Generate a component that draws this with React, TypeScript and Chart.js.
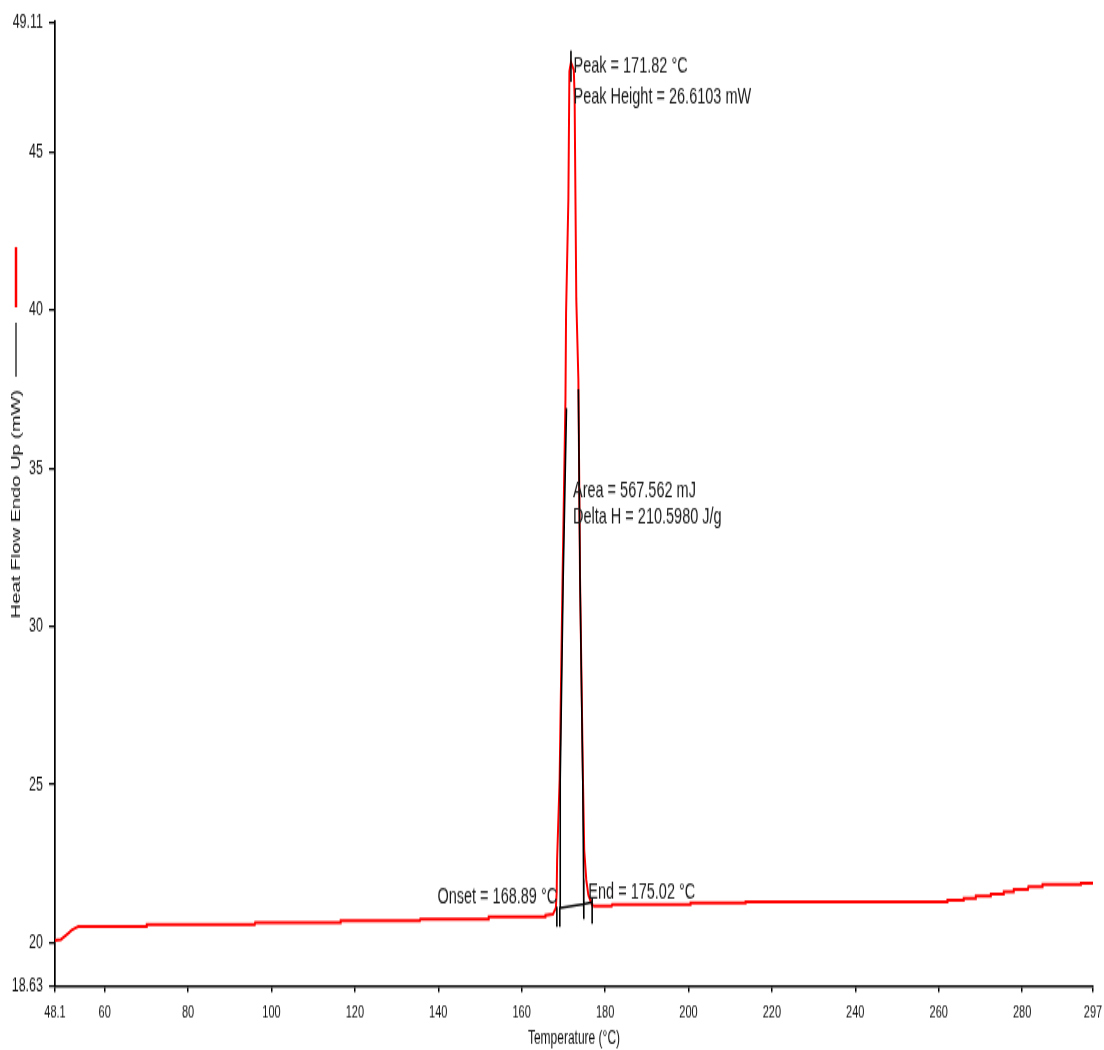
import React, { useEffect, useRef } from 'react';
import { Chart, registerables } from 'chart.js';

Chart.register(...registerables);

const FONT = '"Liberation Sans", Arial, Helvetica, sans-serif';

// Axis ticks
const xTickValues = [48.1, 60, 80, 100, 120, 140, 160, 180, 200, 220, 240, 260, 280, 297];
const yTickValues = [18.63, 20, 25, 30, 35, 40, 45, 49.11];

// Red DSC trace (temperature °C, heat flow mW)
const redTemp = [
  48.1, 49.5, 50.1, 51.3, 52.1, 52.9, 53.7, 70.0, 70.1, 96.0, 96.1, 116.5, 116.6, 135.6, 135.7,
  152.0, 152.1, 165.6, 165.7, 167.5, 168.2, 168.4, 168.5, 169.1, 169.8, 170.5, 170.65, 171.2,
  171.45, 171.82, 172.5, 172.7, 172.8, 173.1, 173.6, 174.0, 174.7, 175.0, 175.5, 176.0, 176.9,
  177.4, 181.6, 181.7, 200.4, 200.5, 213.6, 213.7, 262.0, 262.1, 265.9, 266.0, 268.8, 268.9,
  272.4, 272.5, 275.5, 275.6, 277.9, 278.0, 281.4, 281.5, 284.8, 284.9, 294.0, 294.1, 297.0,
];
const redHeat = [
  20.07, 20.1, 20.17, 20.3, 20.4, 20.46, 20.51, 20.51, 20.57, 20.57, 20.64, 20.64, 20.7, 20.7, 20.75,
  20.75, 20.82, 20.82, 20.87, 20.9, 21.1, 21.6, 22.62, 25.15, 31.48, 37.17, 39.93, 43.5,
  47.55, 47.84, 47.6, 46.76, 45.1, 40.34, 37.81, 31.48, 25.15, 22.93, 21.98, 21.51, 21.19,
  21.16, 21.16, 21.21, 21.21, 21.26, 21.26, 21.3, 21.3, 21.34, 21.34, 21.4, 21.4, 21.48,
  21.48, 21.54, 21.54, 21.61, 21.61, 21.69, 21.69, 21.77, 21.77, 21.85, 21.85, 21.88, 21.88,
];

// Black analysis trace segments
const blackLeftTemp = [169.2, 169.25, 169.95, 170.75];
const blackLeftHeat = [21.1, 25.15, 31.48, 36.9];
const blackRightTemp = [173.6, 174.0, 174.65, 174.85, 174.9];
const blackRightHeat = [37.5, 31.48, 25.15, 22.0, 20.75];
const baselineTemp = [169.2, 174.9, 176.9];
const baselineHeat = [21.1, 21.22, 21.28];
const onsetTick1Temp = [168.44, 168.44];
const onsetTick1Heat = [21.14, 20.5];
const onsetTick2Temp = [169.15, 169.15];
const onsetTick2Heat = [21.14, 20.5];
const endTickTemp = [176.9, 176.9];
const endTickHeat = [21.42, 20.6];
const peakMarkTemp = [171.82, 171.82];
const peakMarkHeat = [48.21, 47.22];

// Annotation texts anchored to data values
const annotations = [
  { text: 'Peak = 171.82 °C', t: 171.82, h: 47.5, dx: 2.5, align: 'left' },
  { text: 'Peak Height = 26.6103 mW', t: 171.82, h: 46.55, dx: 2.5, align: 'left' },
  { text: 'Area = 567.562 mJ', t: 171.82, h: 34.1, dx: 2, align: 'left' },
  { text: 'Delta H = 210.5980 J/g', t: 171.82, h: 33.26, dx: 2, align: 'left' },
  { text: 'Onset = 168.89 °C', t: 168.89, h: 21.25, dx: -1.5, align: 'right' },
  { text: 'End = 175.02 °C', t: 175.02, h: 21.4, dx: 4, align: 'left' },
];

const CANVAS_W = 1104;
const CANVAS_H = 680;
const CSS_H = 1050;

function toPoints(t: number[], h: number[]) {
  return t.map((v, i) => ({ x: v, y: h[i] }));
}

function joinSegments(segs: Array<[number[], number[]]>) {
  const out: Array<{ x: number; y: number | null }> = [];
  segs.forEach(([t, h], k) => {
    if (k > 0) out.push({ x: t[0], y: null });
    out.push(...toPoints(t, h));
  });
  return out;
}

const decorPlugin = {
  id: 'decor',
  afterDatasetsDraw(chart: any) {
    const { ctx, scales } = chart;
    const xs = scales.x;
    const ys = scales.y;
    ctx.save();
    ctx.fillStyle = '#1a1a1a';
    ctx.font = `14.5px ${FONT}`;
    ctx.textBaseline = 'alphabetic';
    annotations.forEach((a) => {
      ctx.textAlign = a.align;
      ctx.fillText(a.text, xs.getPixelForValue(a.t) + a.dx, ys.getPixelForValue(a.h));
    });
    // legend markers next to the axis title
    ctx.lineCap = 'butt';
    ctx.strokeStyle = '#ff0000';
    ctx.lineWidth = 2.5;
    ctx.beginPath();
    ctx.moveTo(16, 160);
    ctx.lineTo(16, 199);
    ctx.stroke();
    ctx.strokeStyle = '#000';
    ctx.lineWidth = 1.2;
    ctx.beginPath();
    ctx.moveTo(16, 209);
    ctx.lineTo(16, 244);
    ctx.stroke();
    ctx.restore();
  },
};

export default function App() {
  const ref = useRef<HTMLCanvasElement | null>(null);

  useEffect(() => {
    if (!ref.current) return;
    const blackData = joinSegments([
      [blackLeftTemp, blackLeftHeat],
      [baselineTemp, baselineHeat],
      [blackRightTemp, blackRightHeat],
      [onsetTick1Temp, onsetTick1Heat],
      [onsetTick2Temp, onsetTick2Heat],
      [endTickTemp, endTickHeat],
      [peakMarkTemp, peakMarkHeat],
    ]);
    const chart = new Chart(ref.current, {
      type: 'line',
      data: {
        datasets: [
          {
            label: 'Analysis',
            data: blackData as any,
            borderColor: '#000000',
            borderWidth: 1.6,
            pointRadius: 0,
            spanGaps: false,
            tension: 0,
            order: 0,
          },
          {
            label: 'Heat Flow',
            data: toPoints(redTemp, redHeat),
            borderColor: '#ff0000',
            borderWidth: 2,
            pointRadius: 0,
            tension: 0,
            order: 1,
          },
        ],
      },
      options: {
        animation: false,
        responsive: false,
        devicePixelRatio: 1,
        layout: { padding: { left: 0, right: 11, top: 14.25, bottom: 0 } },
        plugins: { legend: { display: false }, tooltip: { enabled: false } },
        scales: {
          x: {
            type: 'linear',
            min: 48.1,
            max: 297,
            afterBuildTicks: (scale: any) => {
              scale.ticks = xTickValues.map((v) => ({ value: v }));
            },
            afterFit: (scale: any) => {
              scale.height = CANVAS_H - 638.6;
              scale.paddingLeft = 0;
              scale.paddingRight = 0;
            },
            ticks: {
              autoSkip: false,
              maxRotation: 0,
              padding: 7,
              color: '#111',
              font: { family: FONT, size: 11 },
              callback: (v: any) => String(v),
            },
            grid: { drawOnChartArea: false, drawTicks: true, tickLength: 4, color: '#000', lineWidth: 1.5 },
            border: { color: '#000', width: 1.5 },
            title: {
              display: true,
              text: 'Temperature (°C)',
              color: '#111',
              font: { family: FONT, size: 12 },
              padding: { top: 0, bottom: 0 },
            },
          },
          y: {
            type: 'linear',
            min: 18.63,
            max: 49.11,
            afterBuildTicks: (scale: any) => {
              scale.ticks = yTickValues.map((v) => ({ value: v }));
            },
            afterFit: (scale: any) => {
              scale.width = 55;
              scale.paddingTop = 0;
              scale.paddingBottom = 0;
            },
            ticks: {
              autoSkip: false,
              padding: 6,
              color: '#111',
              font: { family: FONT, size: 12.5 },
              callback: (v: any) => String(v),
            },
            grid: { drawOnChartArea: false, drawTicks: true, tickLength: 6, color: '#000', lineWidth: 1.3 },
            border: { color: '#000', width: 1.7 },
            title: {
              display: true,
              text: 'Heat Flow Endo Up (mW)',
              color: '#111',
              font: { family: FONT, size: 13 },
              padding: { top: 9, bottom: 0 },
            },
          },
        },
      },
      plugins: [decorPlugin],
    });
    return () => chart.destroy();
  }, []);

  return (
    <div style={{ position: 'fixed', left: 0, top: 0, width: CANVAS_W, height: CSS_H, background: '#fff' }}>
      <canvas
        ref={ref}
        width={CANVAS_W}
        height={CANVAS_H}
        style={{ display: 'block', width: `${CANVAS_W}px`, height: `${CSS_H}px` }}
      />
    </div>
  );
}
